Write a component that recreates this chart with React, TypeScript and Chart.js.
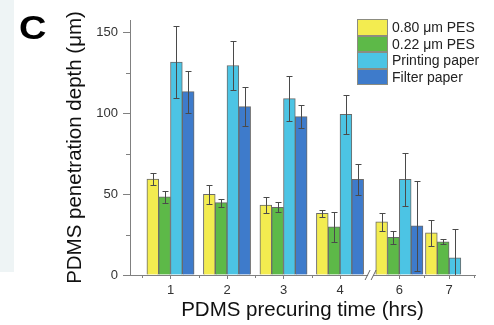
import React, { useEffect, useRef } from 'react';
import { Chart, registerables } from 'chart.js';

Chart.register(...registerables);

// ---- data ----
const categories = ['1', '2', '3', '4', '6', '7'];
// slot of each category on the broken x axis (the axis is broken between 4 and 6)
const axisSlots = [1, 2, 3, 4, 5.05, 5.93];
const xMinorTicks = [0.5, 1.5, 2.5, 3.5, 5.49, 6.37];
const breakSlot = 4.55;

const pes080 = [59.5, 50, 43.4, 38.2, 33, 26.2];
const pes080Err = [3.8, 6, 5, 2, 5.5, 8];
const pes022 = [48.4, 44.8, 42, 29.8, 23.4, 20.6];
const pes022Err = [3.5, 2.5, 3, 9.5, 4, 1.5];
const printing = [132, 129.8, 109.3, 99.6, 59.3, 10.7];
const printingErr = [22.5, 15, 14, 12, 16.5, 18];
const filterPaper: (number | null)[] = [113.6, 104.3, 98.1, 59.3, 30.4, null];
const filterPaperErr: (number | null)[] = [13, 12, 7, 9.5, 28, null];

const seriesLabels = ['0.80 \u03bcm PES', '0.22 \u03bcm PES', 'Printing paper', 'Filter paper'];
const seriesColors = ['#f3ec50', '#5db948', '#4cc4e4', '#3e7bcb'];

const yTicks = [0, 50, 100, 150];
const yMinorTicks = [25, 75, 125];

const FONT = '"Liberation Sans", Arial, sans-serif';
const AXIS = '#808080';

const errorBarPlugin = {
  id: 'errorBars',
  afterDatasetsDraw(chart: any) {
    const { ctx, chartArea, scales } = chart;
    const y = scales.y;
    ctx.save();
    ctx.beginPath();
    ctx.rect(chartArea.left, 0, chartArea.right - chartArea.left, chartArea.bottom);
    ctx.clip();
    ctx.strokeStyle = '#4a4a4a';
    ctx.lineWidth = 1;
    chart.data.datasets.forEach((ds: any, i: number) => {
      const meta = chart.getDatasetMeta(i);
      meta.data.forEach((bar: any, j: number) => {
        const v = ds.data[j].y;
        const e = ds.errors[j];
        if (v == null || e == null) return;
        const x = Math.round(bar.x) + 0.5;
        const yt = Math.round(y.getPixelForValue(v + e)) + 0.5;
        const yb = Math.round(y.getPixelForValue(v - e)) + 0.5;
        ctx.beginPath();
        ctx.moveTo(x, yt);
        ctx.lineTo(x, yb);
        ctx.moveTo(x - 3, yt);
        ctx.lineTo(x + 3, yt);
        ctx.moveTo(x - 3, yb);
        ctx.lineTo(x + 3, yb);
        ctx.stroke();
      });
    });
    ctx.restore();
  },
};

const axisExtrasPlugin = {
  id: 'axisExtras',
  afterDraw(chart: any) {
    const { ctx, chartArea, scales } = chart;
    const { x, y } = scales;
    ctx.save();
    ctx.strokeStyle = AXIS;
    ctx.lineWidth = 1;
    yMinorTicks.forEach((v) => {
      const py = Math.round(y.getPixelForValue(v)) + 0.5;
      ctx.beginPath();
      ctx.moveTo(chartArea.left - 4, py);
      ctx.lineTo(chartArea.left, py);
      ctx.stroke();
    });
    xMinorTicks.forEach((v) => {
      const px = Math.round(x.getPixelForValue(v)) + 0.5;
      ctx.beginPath();
      ctx.moveTo(px, chartArea.bottom);
      ctx.lineTo(px, chartArea.bottom + 3);
      ctx.stroke();
    });
    // axis break marks
    const bx = x.getPixelForValue(breakSlot);
    const by = chartArea.bottom;
    ctx.fillStyle = '#ffffff';
    ctx.fillRect(bx - 3, by - 1, 5, 3);
    ctx.strokeStyle = '#666';
    ctx.beginPath();
    ctx.moveTo(bx - 6, by + 5);
    ctx.lineTo(bx - 1, by - 5);
    ctx.moveTo(bx + 0, by + 5);
    ctx.lineTo(bx + 5, by - 5);
    ctx.stroke();
    ctx.restore();
  },
};

export default function App() {
  const ref = useRef<HTMLCanvasElement | null>(null);

  useEffect(() => {
    if (!ref.current) return;
    const values = [pes080, pes022, printing, filterPaper];
    const errors = [pes080Err, pes022Err, printingErr, filterPaperErr];
    const chart = new Chart(ref.current, {
      type: 'bar',
      data: {
        datasets: values.map((vals, i) => ({
          label: seriesLabels[i],
          data: vals.map((v, j) => ({ x: axisSlots[j], y: v })),
          errors: errors[i],
          backgroundColor: seriesColors[i],
          borderColor: '#6a6a6a',
          borderWidth: 1,
          barThickness: 11.8,
        })) as any,
      },
      options: {
        responsive: false,
        animation: false,
        events: [],
        layout: { padding: { left: 0, top: 20, right: 19, bottom: 0 } },
        plugins: { legend: { display: false }, tooltip: { enabled: false } },
        scales: {
          x: {
            type: 'linear',
            min: 0.2832,
            max: 6.389,
            offset: false,
            afterBuildTicks: (scale: any) => {
              scale.ticks = axisSlots.map((v) => ({ value: v }));
            },
            afterFit: (scale: any) => {
              scale.height = 50;
            },
            ticks: {
              autoSkip: false,
              maxRotation: 0,
              padding: 4,
              color: '#333',
              font: { family: FONT, size: 13 },
              callback: (value: any) => {
                const idx = axisSlots.indexOf(Number(value));
                return idx >= 0 ? categories[idx] : '';
              },
            },
            grid: { display: true, drawOnChartArea: false, drawTicks: true, tickLength: 4, tickColor: AXIS, offset: false },
            border: { display: true, color: AXIS, width: 1 },
            title: {
              display: true,
              text: 'PDMS precuring time (hrs)',
              color: '#111',
              font: { family: FONT, size: 20.5 },
              padding: { top: 0, bottom: 2.5 },
            },
          },
          y: {
            type: 'linear',
            min: 0,
            max: 158,
            afterBuildTicks: (scale: any) => {
              scale.ticks = yTicks.map((v) => ({ value: v }));
            },
            afterFit: (scale: any) => {
              scale.width = 130;
            },
            ticks: {
              padding: 5,
              color: '#333',
              font: { family: FONT, size: 13 },
            },
            grid: { display: true, drawOnChartArea: false, drawTicks: true, tickLength: 7, tickColor: AXIS },
            border: { display: true, color: AXIS, width: 1 },
            title: {
              display: true,
              text: 'PDMS penetration depth (\u03bcm)',
              color: '#111',
              font: { family: FONT, size: 20.5 },
              padding: { top: 63, bottom: 0 },
            },
          },
        },
      } as any,
      plugins: [errorBarPlugin, axisExtrasPlugin],
    });
    return () => chart.destroy();
  }, []);

  return (
    <div style={{ position: 'fixed', left: 0, top: 0, width: 494, height: 325, background: '#fff', overflow: 'hidden' }}>
      <div style={{ position: 'absolute', left: 0, top: 0, width: 14, height: 272, background: '#eef4f5' }} />
      <canvas ref={ref} width={494} height={325} style={{ position: 'absolute', left: 0, top: 0 }} />
      <div
        style={{
          position: 'absolute',
          left: 19,
          top: 11,
          font: `bold 33px ${FONT}`,
          lineHeight: '33px',
          color: '#000',
          transform: 'scaleX(1.15)',
          transformOrigin: 'left top',
        }}
      >
        C
      </div>
      <div style={{ position: 'absolute', left: 357, top: 19, font: `14px ${FONT}`, color: '#222' }}>
        {seriesLabels.map((label, i) => (
          <div key={label} style={{ display: 'flex', alignItems: 'center', height: 16.5 }}>
            <span
              style={{
                display: 'inline-block',
                width: 31,
                height: 16.5,
                boxSizing: 'border-box',
                background: seriesColors[i],
                border: '1px solid #8c8c80',
              }}
            />
            <span style={{ marginLeft: 4, lineHeight: '16.5px', whiteSpace: 'nowrap' }}>{label}</span>
          </div>
        ))}
      </div>
    </div>
  );
}
